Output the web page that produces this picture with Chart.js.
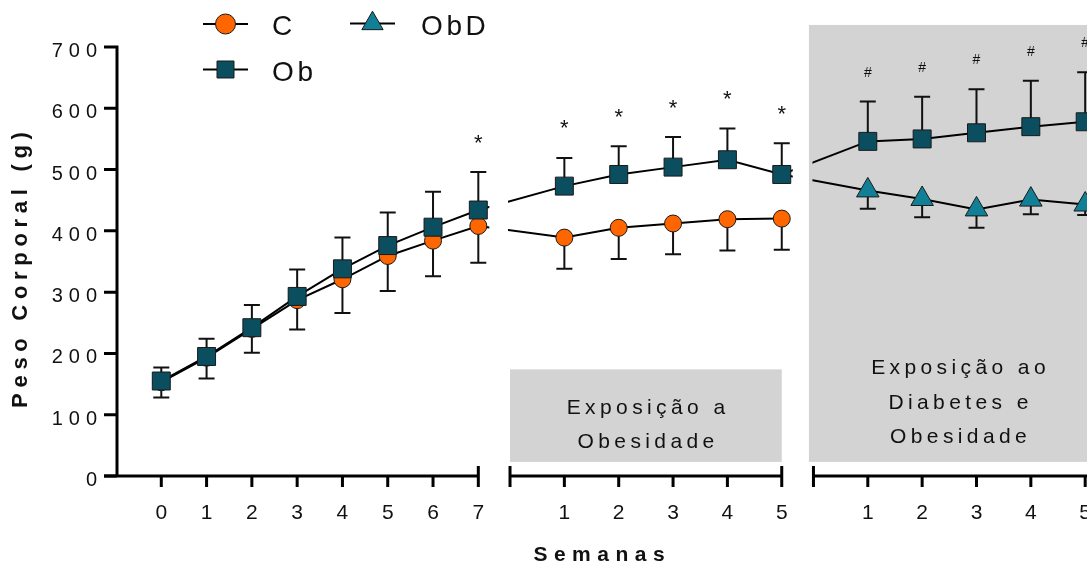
<!DOCTYPE html>
<html lang="pt">
<head>
<meta charset="utf-8">
<title>Peso Corporal</title>
<script src="https://cdn.jsdelivr.net/npm/chart.js@4.4.1/dist/chart.umd.min.js"></script>
<style>
  html, body { margin: 0; padding: 0; background: #fff; overflow: hidden; }
  #wrap { width: 1087px; height: 564px; }
  canvas { display: block; }
</style>
</head>
<body>
<div id="wrap"><canvas id="chart"></canvas></div>
<script>
// semanas de cada fase
const weeksGrowth = [0, 1, 2, 3, 4, 5, 6, 7];
const weeksPhase = [1, 2, 3, 4, 5];

// fase 1 - crescimento (média e desvio padrão, g)
const cGrowth = [153, 193, 240, 287, 321, 359, 384, 408];
const cGrowthSd = [25, 34, 39, 48, 55, 57, 58, 60];
const obGrowth = [155, 195, 242, 293, 338, 376, 406, 434];
const obGrowthSd = [22, 29, 37, 44, 51, 54, 58, 62];
const obGrowthMark = ['', '', '', '', '', '', '', '*'];

// fase 2 - exposição à obesidade
const cObes = [389, 405, 412, 419, 420];
const cObesSd = [51, 51, 50, 51, 51];
const obObes = [473, 492, 504, 516, 492];
const obObesSd = [46, 46, 49, 51, 51];
const obObesMark = ['*', '*', '*', '*', '*'];

// fase 3 - exposição ao diabetes e obesidade
const obDiab = [546, 550, 560, 570, 578];
const obDiabSd = [65, 69, 71, 75, 81];
const obDiabMark = ['#', '#', '#', '#', '#'];
const obdDiab = [466, 452, 435, 451, 443];
const obdDiabSd = [30, 30, 30, 24, 17];

const yTicks = [0, 100, 200, 300, 400, 500, 600, 700];

const FONT = "'Liberation Sans', Arial, sans-serif";
const INK = '#111';

// each phase owns a piece of the x axis: value = origin + week * step
const phases = [
  { origin: 0, step: 1, from: -1, to: 7, capStart: false, capEnd: true, weeks: weeksGrowth },
  { origin: 7.7, step: 1.2, from: 7.7, to: 13.7, capStart: true, capEnd: true, weeks: weeksPhase },
  { origin: 14.4, step: 1.2, from: 14.4, to: 20.44, capStart: true, capEnd: false, weeks: weeksPhase },
];

// shaded panels behind phases 2 and 3 (axis units)
const panels = [
  { x0: 7.7, x1: 13.7, y0: 23, y1: 174, textX: 10.7, baselines: [414, 447.7],
    lines: ['Exposição a', 'Obesidade'] },
  { x0: 14.3, x1: 20.44, y0: 23, y1: 736, textX: 17.6, baselines: [374, 408.5, 442.7],
    lines: ['Exposição ao', 'Diabetes e', 'Obesidade'] },
];

function pts(phase, means, sds, marks) {
  return phase.weeks.map((w, i) => ({
    x: phase.origin + w * phase.step, y: means[i], sd: sds[i], mark: marks ? marks[i] : ''
  }));
}

// ObD branches off the last Ob point of phase 2
const obdStart = { x: phases[1].origin + 5 * phases[1].step, y: obObes[4] };

const dataOb = [...pts(phases[0], obGrowth, obGrowthSd, obGrowthMark),
  ...pts(phases[1], obObes, obObesSd, obObesMark),
  ...pts(phases[2], obDiab, obDiabSd, obDiabMark)];
const dataObD = [obdStart, ...pts(phases[2], obdDiab, obdDiabSd)];
const dataC = [...pts(phases[0], cGrowth, cGrowthSd), ...pts(phases[1], cObes, cObesSd)];

function spaced(ctx, text, x, y, spacing, align) {
  ctx.letterSpacing = spacing + 'px';
  ctx.textAlign = align;
  // canvas also adds spacing after the last glyph, shift it back
  const shift = align === 'center' ? spacing / 2 : align === 'right' ? spacing : 0;
  ctx.fillText(text, x + shift, y);
  ctx.letterSpacing = '0px';
}

const prismLook = {
  id: 'prismLook',
  beforeDraw(chart) {
    const { ctx, scales: { x, y } } = chart;
    ctx.save();
    ctx.fillStyle = '#fff';
    ctx.fillRect(0, 0, chart.width, chart.height);
    panels.forEach(p => {
      const l = x.getPixelForValue(p.x0), r = x.getPixelForValue(p.x1);
      const t = y.getPixelForValue(p.y1), b = y.getPixelForValue(p.y0);
      ctx.fillStyle = '#d3d3d3';
      ctx.fillRect(l, t, r - l, b - t);
      ctx.fillStyle = INK;
      ctx.font = '21px ' + FONT;
      ctx.textBaseline = 'alphabetic';
      p.lines.forEach((s, i) => spaced(ctx, s, x.getPixelForValue(p.textX), p.baselines[i], 4.4, 'center'));
    });
    ctx.restore();
  },
  beforeDatasetsDraw(chart) {
    // error bars: Ob upwards, C and ObD downwards
    const { ctx, scales: { x, y } } = chart;
    ctx.save();
    ctx.strokeStyle = INK;
    ctx.lineWidth = 2;
    chart.data.datasets.forEach(ds => {
      ds.data.forEach(p => {
        if (p.sd == null) return;
        const px = x.getPixelForValue(p.x);
        const py = y.getPixelForValue(p.y);
        const pe = y.getPixelForValue(p.y + ds.errDir * p.sd);
        ctx.beginPath();
        ctx.moveTo(px, py);
        ctx.lineTo(px, pe);
        ctx.moveTo(px - 8, pe);
        ctx.lineTo(px + 8, pe);
        ctx.stroke();
      });
    });
    ctx.restore();
  },
  beforeDatasetDraw(chart) {
    // hide the connecting lines inside the axis breaks
    const { ctx, scales: { x } } = chart;
    const g1a = x.getPixelForValue(phases[0].to) + 11, g1b = x.getPixelForValue(phases[1].from) - 2;
    const g2a = x.getPixelForValue(phases[1].to) + 11, g2b = x.getPixelForValue(phases[2].from) - 1;
    ctx.save();
    ctx.beginPath();
    ctx.rect(0, 0, g1a, chart.height);
    ctx.rect(g1b, 0, g2a - g1b, chart.height);
    ctx.rect(g2b, 0, chart.width - g2b, chart.height);
    ctx.clip();
  },
  afterDatasetDraw(chart) {
    chart.ctx.restore();
  },
  afterDatasetsDraw(chart) {
    const { ctx, scales: { x, y } } = chart;
    const axisX = x.getPixelForValue(-1) + 1;
    const axisY = y.getPixelForValue(0);
    ctx.save();
    ctx.strokeStyle = '#000';
    ctx.fillStyle = INK;
    ctx.lineWidth = 3;
    ctx.lineCap = 'butt';

    // y axis
    ctx.beginPath();
    ctx.moveTo(axisX, y.getPixelForValue(700) - 1.5);
    ctx.lineTo(axisX, axisY);
    yTicks.forEach(v => {
      const py = y.getPixelForValue(v);
      ctx.moveTo(axisX - 13, py);
      ctx.lineTo(axisX, py);
    });
    ctx.stroke();
    ctx.font = '20px ' + FONT;
    ctx.textBaseline = 'alphabetic';
    yTicks.forEach(v => spaced(ctx, String(v), axisX - 20, y.getPixelForValue(v) + 10, 6, 'right'));

    // broken x axis
    ctx.beginPath();
    phases.forEach((ph, k) => {
      const a = k === 0 ? axisX - 13 : x.getPixelForValue(ph.from);
      const b = x.getPixelForValue(ph.to);
      ctx.moveTo(a, axisY);
      ctx.lineTo(b, axisY);
      if (ph.capStart) { ctx.moveTo(a, axisY - 10); ctx.lineTo(a, axisY + 11); }
      if (ph.capEnd) { ctx.moveTo(b, axisY - 10); ctx.lineTo(b, axisY + 11); }
      ph.weeks.forEach(w => {
        const px = x.getPixelForValue(ph.origin + w * ph.step);
        ctx.moveTo(px, axisY);
        ctx.lineTo(px, axisY + 11);
      });
    });
    ctx.stroke();
    ctx.font = '21px ' + FONT;
    ctx.textAlign = 'center';
    phases.forEach(ph => ph.weeks.forEach(w => {
      ctx.fillText(String(w), x.getPixelForValue(ph.origin + w * ph.step), axisY + 43);
    }));

    // axis titles
    ctx.font = 'bold 21px ' + FONT;
    spaced(ctx, 'Semanas', 599, 560.5, 6.5, 'center');
    ctx.save();
    ctx.translate(27, 270);
    ctx.rotate(-Math.PI / 2);
    ctx.font = 'bold 22px ' + FONT;
    spaced(ctx, 'Peso Corporal (g)', 0, 0, 5.7, 'center');
    ctx.restore();

    // significance marks over the Ob error bars
    chart.data.datasets.forEach(ds => ds.data.forEach(p => {
      if (!p.mark) return;
      const px = x.getPixelForValue(p.x);
      const top = y.getPixelForValue(p.y + p.sd);
      ctx.textAlign = 'center';
      if (p.mark === '*') {
        ctx.font = '22px ' + FONT;
        ctx.fillText('*', px, top - 35 + 12.5);
      } else {
        ctx.font = '14px ' + FONT;
        ctx.fillText('#', px, top - 30 + 5);
      }
    }));

    // legend
    const entries = [
      { ds: 2, lx: 203, ly: 24, tx: 272, ty: 35, r: 10 },
      { ds: 0, lx: 203, ly: 69.5, tx: 272, ty: 81, r: 12 },
      { ds: 1, lx: 350, ly: 23.5, tx: 421, ty: 34.5, r: 12.3 },
    ];
    entries.forEach(e => {
      const ds = chart.data.datasets[e.ds];
      ctx.strokeStyle = '#000';
      ctx.lineWidth = 2;
      ctx.beginPath();
      ctx.moveTo(e.lx, e.ly);
      ctx.lineTo(e.lx + 45, e.ly);
      ctx.stroke();
      ctx.fillStyle = ds.pointBackgroundColor;
      ctx.strokeStyle = ds.pointBorderColor;
      ctx.lineWidth = 1;
      Chart.helpers.drawPoint(ctx, { pointStyle: ds.pointStyle, radius: e.r, rotation: 0, borderWidth: 1 },
        e.lx + 22.5, e.ly);
      ctx.fillStyle = INK;
      ctx.font = '28px ' + FONT;
      spaced(ctx, ds.label, e.tx, e.ty, 3.6, 'left');
    });
    ctx.restore();
  }
};

const lineBase = { borderColor: '#000', borderWidth: 2, tension: 0, clip: false, pointBorderColor: '#1a1a1a', pointBorderWidth: 1 };

new Chart(document.getElementById('chart'), {
  type: 'line',
  data: {
    datasets: [
      { ...lineBase, label: 'Ob', data: dataOb, errDir: 1, pointStyle: 'rect', pointRadius: 12.7,
        pointBackgroundColor: '#0a4e60' },
      { ...lineBase, label: 'ObD', data: dataObD, errDir: -1, pointStyle: 'triangle',
        pointRadius: c => (c.raw && c.raw.sd == null ? 0 : 13), pointBackgroundColor: '#118097' },
      { ...lineBase, label: 'C', data: dataC, errDir: -1, pointStyle: 'circle', pointRadius: 8.5,
        pointBackgroundColor: '#ff6600' },
    ]
  },
  options: {
    responsive: true,
    maintainAspectRatio: false,
    animation: false,
    events: [],
    layout: { autoPadding: false, padding: { left: 116, right: 0, top: 47, bottom: 88 } },
    scales: {
      x: { type: 'linear', min: -1, max: 20.44, display: false },
      y: { min: 0, max: 700, display: false }
    },
    plugins: { legend: { display: false }, tooltip: { enabled: false } }
  },
  plugins: [prismLook]
});
</script>
</body>
</html>
